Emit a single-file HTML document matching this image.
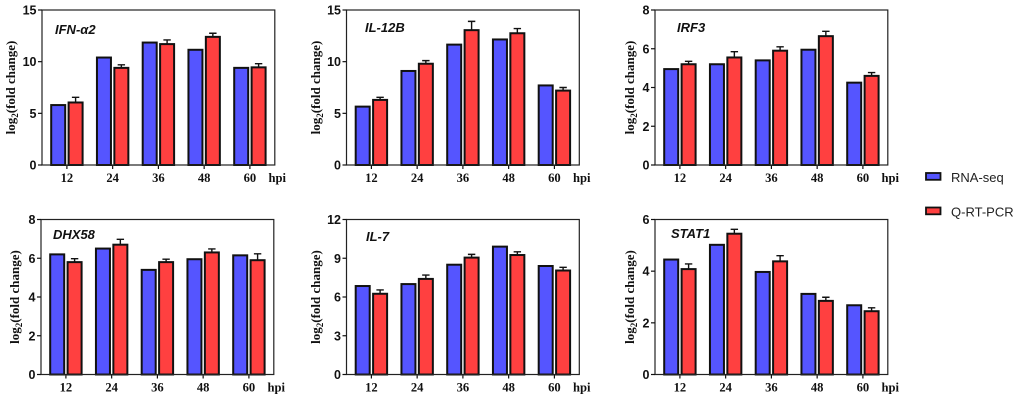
<!DOCTYPE html>
<html>
<head>
<meta charset="utf-8">
<style>
html,body{margin:0;padding:0;background:#fff;width:1020px;height:400px;overflow:hidden}
svg{display:block}
.tick{font:bold 12.5px "Liberation Sans",sans-serif;fill:#111}
.xt{font:bold 12.6px "Liberation Serif",serif;fill:#111}
.yt{font:bold 13px "Liberation Serif",serif;fill:#111}
.gene{font:italic bold 13px "Liberation Sans",sans-serif;fill:#111}
.leg{font:13px "Liberation Sans",sans-serif;fill:#222}
</style>
</head>
<body>
<svg id="figure" width="1020" height="400" viewBox="0 0 1020 400" xmlns="http://www.w3.org/2000/svg"></svg>
<script>
const categories = ['12', '24', '36', '48', '60'];
const geneNames = ['IFN-α2', 'IL-12B', 'IRF3', 'DHX58', 'IL-7', 'STAT1'];
const axisMax = [15, 15, 8, 8, 12, 6];
const tickLabels = [
  [0, 5, 10, 15],
  [0, 5, 10, 15],
  [0, 2, 4, 6, 8],
  [0, 2, 4, 6, 8],
  [0, 3, 6, 9, 12],
  [0, 2, 4, 6]
];
const rnaSeq = [
  [5.8, 10.4, 11.85, 11.15, 9.4],
  [5.65, 9.1, 11.65, 12.15, 7.7],
  [4.95, 5.2, 5.4, 5.95, 4.25],
  [6.2, 6.5, 5.4, 5.95, 6.15],
  [6.85, 7.0, 8.5, 9.9, 8.4],
  [4.45, 5.02, 3.97, 3.12, 2.68]
];
const qrtPcr = [
  [6.05, 9.4, 11.7, 12.4, 9.45],
  [6.3, 9.8, 13.05, 12.75, 7.2],
  [5.2, 5.55, 5.9, 6.65, 4.6],
  [5.8, 6.7, 5.8, 6.3, 5.9],
  [6.25, 7.4, 9.05, 9.25, 8.05],
  [4.08, 5.45, 4.38, 2.85, 2.45]
];
const qrtError = [
  [0.5, 0.3, 0.4, 0.35, 0.35],
  [0.25, 0.3, 0.85, 0.45, 0.3],
  [0.15, 0.3, 0.2, 0.25, 0.17],
  [0.18, 0.28, 0.15, 0.18, 0.33],
  [0.3, 0.3, 0.25, 0.25, 0.25],
  [0.2, 0.17, 0.22, 0.14, 0.13]
];

const NS = 'http://www.w3.org/2000/svg';
const svg = document.getElementById('figure');
const BLUE = '#5555ff', RED = '#ff4040', INK = '#111';

function make(parent, tag, attrs, text) {
  const el = document.createElementNS(NS, tag);
  for (const k in attrs) el.setAttribute(k, attrs[k]);
  if (text !== undefined) el.textContent = text;
  parent.appendChild(el);
  return el;
}

const frames = [
  {l: 42, t: 10, title: 11, gx: 55, gy: 34},
  {l: 346.5, t: 10, title: 316, gx: 365, gy: 32},
  {l: 655, t: 10, title: 630, gx: 677, gy: 32},
  {l: 41, t: 219.5, title: 15, gx: 53, gy: 239},
  {l: 346.5, t: 219.5, title: 316, gx: 366, gy: 241},
  {l: 655, t: 219.5, title: 630, gx: 671, gy: 238}
];
const PW = 232.8, PH = 155;

function drawPanel(p) {
  const f = frames[p];
  const yScale = v => f.t + PH - (v / axisMax[p]) * PH;
  const xScale = i => f.l + 24.9 + i * 45.75;

  const g = make(svg, 'g', {});
  
  

  categories.forEach((c, i) => {
    const cx = xScale(i);
    const base = yScale(0);
    const by = yScale(rnaSeq[p][i]);
    const blue = make(g, 'rect', {x: cx - 15.7, y: by, width: 14, height: base - by, fill: BLUE, stroke: INK, 'stroke-width': 2});
    
    

    const ry = yScale(qrtPcr[p][i]);
    const ey = yScale(qrtPcr[p][i] + qrtError[p][i]);
    const err = make(g, 'path', {d: `M${cx + 8.7} ${ry}V${ey}M${cx + 5} ${ey}H${cx + 12.4}`, fill: 'none', stroke: INK, 'stroke-width': 1.4});
    
    

    const red = make(g, 'rect', {x: cx + 1.7, y: ry, width: 14, height: base - ry, fill: RED, stroke: INK, 'stroke-width': 2});
    
    

    const tk = make(g, 'line', {x1: cx, x2: cx, y1: base, y2: base + 4, stroke: INK, 'stroke-width': 1.2});
    
    

    const lb = make(g, 'text', {x: cx, y: base + 17, 'text-anchor': 'middle', class: 'xt'}, c);
    
    
  });

  const frame = make(g, 'rect', {x: f.l, y: f.t, width: PW, height: PH, fill: 'none', stroke: '#222', 'stroke-width': 1.2});
  
  

  tickLabels[p].forEach(v => {
    const y = yScale(v);
    const tk = make(g, 'line', {x1: f.l - 4, x2: f.l, y1: y, y2: y, stroke: INK, 'stroke-width': 1.2});
    
    
    const lb = make(g, 'text', {x: f.l - 5.5, y: y + 4.5, 'text-anchor': 'end', class: 'tick'}, String(v));
    
    
  });

  const hpi = make(g, 'text', {x: f.l + 226.5, y: f.t + PH + 17, class: 'xt'}, 'hpi');
  
  

  const gene = make(g, 'text', {x: f.gx, y: f.gy, class: 'gene'}, geneNames[p]);
  
  

  const cy = f.t + PH / 2;
  const title = make(g, 'text', {transform: `translate(${f.title + 4},${cy}) rotate(-90)`, 'text-anchor': 'middle', class: 'yt'});
  
  
  make(title, 'tspan', {}, 'log');
  make(title, 'tspan', {dy: 3, 'font-size': 9}, '2');
  make(title, 'tspan', {dy: -3}, '(fold change)');
}

for (let p = 0; p < geneNames.length; p++) drawPanel(p);

const legendItems = ['RNA-seq', 'Q-RT-PCR'];
const legendColors = [BLUE, RED];
const legendTop = [173, 207.5];
legendItems.forEach((name, i) => {
  const g = make(svg, 'g', {});
  
  
  const sw = make(g, 'rect', {x: 926, y: legendTop[i], width: 14.5, height: 6.8, fill: legendColors[i], stroke: INK, 'stroke-width': 1.8});
  
  
  const t = make(g, 'text', {x: 951, y: legendTop[i] + 8.8, class: 'leg'}, name);
  
  
});
</script>
</body>
</html>
